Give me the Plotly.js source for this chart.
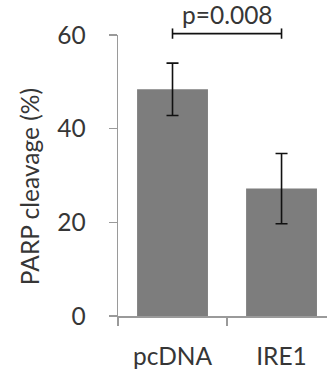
<!DOCTYPE html>
<html>
<head>
<meta charset="utf-8">
<script src="https://cdn.plot.ly/plotly-3.0.1.min.js"></script>
<style>html,body{margin:0;padding:0;background:#fff;}#chart{width:327px;height:375px;}</style>
</head>
<body>
<div id="chart"></div>
<script>
// Data
const categories = ["pcDNA", "IRE1"];
const values = [48.4, 27.2];
const errors = [5.6, 7.5];
const yTicks = [0, 20, 40, 60];
const pLabel = "p=0.008";
const bracketY = 60.3;
const yTitle = "PARP cleavage (%)";

const yRange = [0, 60];
const toPaper = v => (v - yRange[0]) / (yRange[1] - yRange[0]);
const FONT = "Lato, 'Open Sans', sans-serif";
const TXT = "#363636";
const AX = "#9a9a9a";
const FS = 24.5;

const trace = {
  type: "bar",
  x: categories,
  y: values,
  width: 0.65,
  marker: {color: "#7d7d7d", line: {width: 0}},
  error_y: {type: "data", array: errors, visible: true, color: "#111", thickness: 1.6, width: 6},
  hoverinfo: "none"
};

const capHalf = 1.1;
const layout = {
  width: 327, height: 375,
  margin: {l: 118, r: 0, t: 34.5, b: 59},
  paper_bgcolor: "#fff", plot_bgcolor: "#fff",
  showlegend: false,
  font: {family: FONT, size: FS, color: TXT},
  xaxis: {
    type: "category",
    range: [-0.5, 1.417],
    showline: true, linecolor: AX, linewidth: 1.5,
    ticks: "outside", ticklen: 8, tickcolor: AX, tickwidth: 1.5,
    tickson: "boundaries",
    showgrid: false, zeroline: false,
    ticklabelstandoff: 18,
    tickfont: {family: FONT, size: FS, color: TXT}
  },
  yaxis: {
    range: yRange,
    tickvals: yTicks,
    showline: true, linecolor: AX, linewidth: 1.5,
    ticks: "outside", ticklen: 8, tickcolor: AX, tickwidth: 1.5,
    showgrid: false, zeroline: false,
    ticklabelstandoff: 18,
    tickfont: {family: FONT, size: FS, color: TXT}
  },
  shapes: [
    {type: "line", xref: "x", yref: "paper", x0: 0, x1: 1, y0: toPaper(bracketY), y1: toPaper(bracketY), line: {color: "#111", width: 1.6}},
    {type: "line", xref: "x", yref: "paper", x0: 0, x1: 0, y0: toPaper(bracketY - capHalf), y1: toPaper(bracketY + capHalf), line: {color: "#111", width: 1.6}},
    {type: "line", xref: "x", yref: "paper", x0: 1, x1: 1, y0: toPaper(bracketY - capHalf), y1: toPaper(bracketY + capHalf), line: {color: "#111", width: 1.6}}
  ],
  annotations: [
    {xref: "x", yref: "paper", x: 0.5, y: toPaper(bracketY), text: pLabel, showarrow: false, yanchor: "bottom", yshift: 3,
     font: {family: FONT, size: FS, color: TXT}},
    {xref: "paper", yref: "paper", x: -0.426, y: 0.462, text: yTitle, textangle: -90, showarrow: false,
     xanchor: "center", yanchor: "middle", font: {family: FONT, size: FS, color: TXT}}
  ]
};

Plotly.newPlot("chart", [trace], layout, {displayModeBar: false, staticPlot: true});
</script>
</body>
</html>
